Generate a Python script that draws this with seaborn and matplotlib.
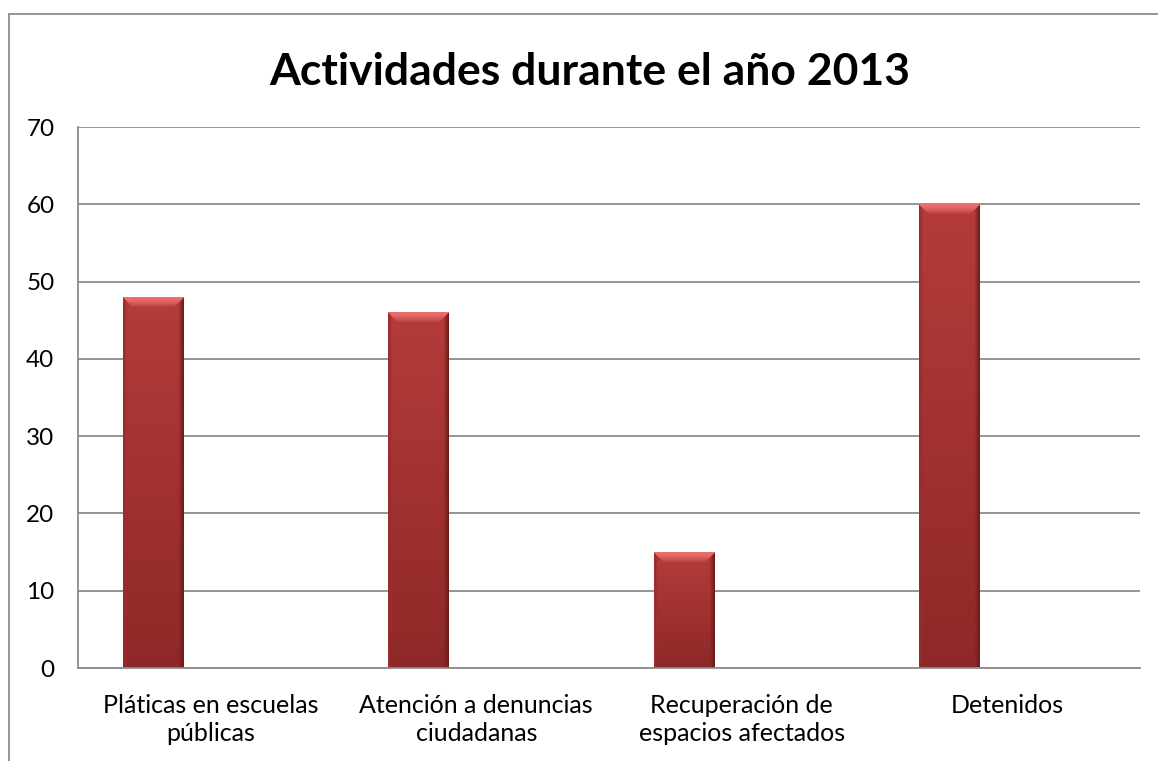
import numpy as np
import pandas as pd
import matplotlib
matplotlib.use("Agg")
import matplotlib.pyplot as plt
import seaborn as sns
from matplotlib.patches import Rectangle
from matplotlib.colors import to_rgb

# ---- data ----
categories = ["Pláticas en escuelas\npúblicas",
              "Atención a denuncias\nciudadanas",
              "Recuperación de\nespacios afectados",
              "Detenidos"]
values = [48, 46, 15, 60]
y_ticks = [0, 10, 20, 30, 40, 50, 60, 70]
title = "Actividades durante el año 2013"

sns.set_theme(style="white")
plt.rcParams["font.family"] = ["Lato", "DejaVu Sans"]

fig = plt.figure(figsize=(11.58, 7.61), dpi=100)
ax = fig.add_axes([0.0674, 0.1222, 0.9171, 0.7109])

df = pd.DataFrame({"cat": categories, "val": values})
bar_w = 0.226
sns.barplot(data=df, x="cat", y="val", color="#A83434", width=bar_w,
            saturation=1, ax=ax, zorder=3)

ax.set_xlim(-0.5, len(categories) - 0.5)
ax.set_ylim(y_ticks[0], y_ticks[-1])
ax.set_yticks(y_ticks)
ax.set_xlabel("")
ax.set_ylabel("")

# shift bars to first slot of category (Excel clustered layout)
for p in ax.patches:
    p.set_x(p.get_x() - 0.219)

ax.yaxis.grid(True, color="#8C8C8C", lw=1.3)
ax.set_axisbelow(True)
for s in ["top", "right"]:
    ax.spines[s].set_visible(False)
for s in ["left", "bottom"]:
    ax.spines[s].set_color("#8C8C8C")
    ax.spines[s].set_linewidth(1.3)
ax.spines["bottom"].set_zorder(5)
ax.tick_params(axis="y", length=0, labelsize=17.5, pad=17, colors="black")
ax.tick_params(axis="x", length=0, labelsize=18, pad=19, colors="black")
for lab in ax.get_xticklabels():
    lab.set_linespacing(1.22)

# gradient / bevel fill for bars
top_c = np.array(to_rgb("#B43C3A"))
bot_c = np.array(to_rgb("#8E2828"))
bevel_c = np.array(to_rgb("#EE6E6E"))
edge_l = np.array(to_rgb("#9A2C2C"))
edge_r = np.array(to_rgb("#6E1C1C"))
for p in list(ax.patches):
    x0, y0, w, h = p.get_x(), p.get_y(), p.get_width(), p.get_height()
    (px0, py0), (px1, py1) = ax.transData.transform([(x0, y0), (x0 + w, y0 + h)])
    wpx = int(round(px1 - px0)); hpx = int(round(py1 - py0))
    img = np.zeros((hpx, wpx, 3))
    b = 10
    for r in range(hpx):
        t = r / max(hpx - 1, 1)
        base = top_c * (1 - t) + bot_c * t
        for c in range(wpx):
            dl = c; dr = wpx - 1 - c; dt = r
            col = base
            if dt < b and dt <= dl and dt <= dr:
                f = (dt / b) ** 1.5
                col = bevel_c * (1 - f) + top_c * f
            elif dl < 4:
                col = edge_l * (1 - dl / 4) + base * (dl / 4)
            elif dr < 5:
                col = edge_r * (1 - dr / 5) + base * (dr / 5)
            img[r, c] = col
    im = ax.imshow(img, extent=(x0, x0 + w, y0, y0 + h), aspect="auto",
                   zorder=4, interpolation="bilinear", origin="upper")
    im.set_clip_path(p)
    p.set_edgecolor("#7A2020")
    p.set_linewidth(0.6)

ax.set_xlim(-0.5, len(categories) - 0.5)
ax.set_ylim(y_ticks[0], y_ticks[-1])

# outer chart frame
fig.patches.append(Rectangle((9 / 1158, -0.2), 1.5, 1.2 - 14 / 761,
                             transform=fig.transFigure, fill=False,
                             edgecolor="#8C8C8C", lw=1.3))

fig.text(0.509, 0.905, title, ha="center", va="center",
         fontsize=32, fontweight="bold", color="black")

fig.savefig("out.png", dpi=100)
